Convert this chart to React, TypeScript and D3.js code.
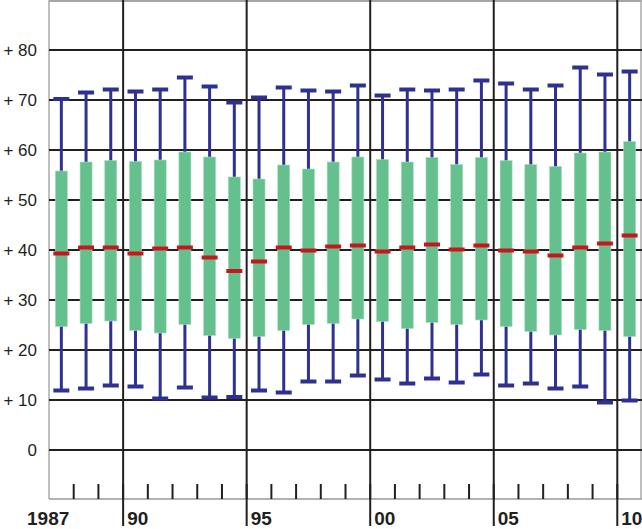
import React from "react";
import * as d3 from "d3";

const years = [1987,1988,1989,1990,1991,1992,1993,1994,1995,1996,1997,1998,1999,2000,2001,2002,2003,2004,2005,2006,2007,2008,2009,2010];
const maxVals = [70.2,71.5,72.1,71.7,72.1,74.5,72.7,69.5,70.5,72.5,71.9,71.7,72.9,70.9,72.1,71.9,72.1,73.9,73.3,72.1,72.9,76.5,75.1,75.7];
const q3Vals = [55.8,57.6,57.9,57.7,58.0,59.6,58.6,54.6,54.2,57.0,56.2,57.6,58.6,58.1,57.6,58.5,57.1,58.5,57.9,57.1,56.7,59.4,59.6,61.7];
const medianVals = [39.3,40.5,40.5,39.3,40.3,40.5,38.5,35.8,37.7,40.5,39.9,40.7,40.9,39.7,40.5,41.1,40.1,40.9,39.9,39.7,38.9,40.5,41.3,42.9];
const q1Vals = [24.7,25.3,25.8,23.9,23.4,25.1,22.9,22.3,22.7,23.9,25.1,25.3,26.2,25.7,24.3,25.5,25.1,26.0,24.7,23.7,23.0,24.1,23.9,22.7];
const minVals = [11.9,12.3,12.9,12.7,10.3,12.5,10.5,10.6,11.9,11.5,13.7,13.7,14.9,14.1,13.3,14.3,13.5,15.1,12.9,13.3,12.3,12.7,9.5,9.9];
const yTicks = [0,10,20,30,40,50,60,70,80];
const yTickLabels = ["0","+ 10","+ 20","+ 30","+ 40","+ 50","+ 60","+ 70","+ 80"];
const majorYears = [1987,1990,1995,2000,2005,2010];
const majorLabels = ["1987","90","95","00","05","10"];

export default function App() {
  const W = 642, H = 529;
  const left = 49, right = 642;
  const y = d3.scaleLinear().domain([-10, 90]).range([500, 0]);
  const x = d3.scaleBand<number>().domain(years).range([left, right]).paddingInner(0).paddingOuter(0);
  const bw = x.bandwidth();
  const navy = "#2e3192";
  const green = "#64c18d";
  const red = "#c8161e";
  const ink = "#231f20";
  const bottom = y(-10) - 1;
  return (
    <svg width={W} height={H} style={{ position: "absolute", left: 0, top: 0, background: "#fff" }}>
      {/* frame */}
      <line x1={left} x2={W} y1={1} y2={1} stroke="#888" strokeWidth={1.5} />
      <line x1={left} x2={left} y1={0} y2={bottom} stroke="#aaa" strokeWidth={1.5} />
      <line x1={left} x2={W} y1={bottom} y2={bottom} stroke="#999" strokeWidth={1.5} />
      <line x1={W - 1} x2={W - 1} y1={0} y2={bottom} stroke="#aaa" strokeWidth={1.5} />
      {/* horizontal grid */}
      {yTicks.map((t, i) => (
        <g key={t}>
          <line x1={left} x2={W} y1={y(t)} y2={y(t)} stroke={ink} strokeWidth={2} />
          <text x={37} y={y(t)} dy="0.35em" textAnchor="end" fontFamily="Liberation Sans, Arial, sans-serif" fontSize={17} fill={ink}>{yTickLabels[i]}</text>
        </g>
      ))}
      {/* minor ticks */}
      {years.slice(1).map((yr) => (
        <line key={yr} x1={x(yr)!} x2={x(yr)!} y1={bottom - 15} y2={bottom} stroke={ink} strokeWidth={2} />
      ))}
      {/* major vertical lines */}
      {majorYears.slice(1).map((yr) => (
        <line key={yr} x1={x(yr)!} x2={x(yr)!} y1={0} y2={526} stroke={ink} strokeWidth={2} />
      ))}
      {/* boxes */}
      {years.map((yr, i) => {
        const cx = x(yr)! + bw / 2;
        return (
          <g key={yr}>
            <line x1={cx} x2={cx} y1={y(maxVals[i])} y2={y(minVals[i])} stroke={navy} strokeWidth={3} />
            <rect x={cx - 8} y={y(maxVals[i]) - 2} width={16} height={4} fill={navy} />
            <rect x={cx - 8} y={y(minVals[i]) - 2} width={16} height={4} fill={navy} />
            <rect x={cx - 6} y={y(q3Vals[i])} width={12} height={y(q1Vals[i]) - y(q3Vals[i])} fill={green} stroke="#a8dcc0" strokeWidth={0.6} />
            <rect x={cx - 8} y={y(medianVals[i]) - 2} width={16} height={4} fill={red} />
          </g>
        );
      })}
      {/* x labels */}
      {majorYears.map((yr, i) => (
        <text key={yr} x={i === 0 ? 27 : x(yr)! + 4} y={525} fontFamily="Liberation Sans, Arial, sans-serif" fontWeight="bold" fontSize={19} fill={ink}>{majorLabels[i]}</text>
      ))}
    </svg>
  );
}
